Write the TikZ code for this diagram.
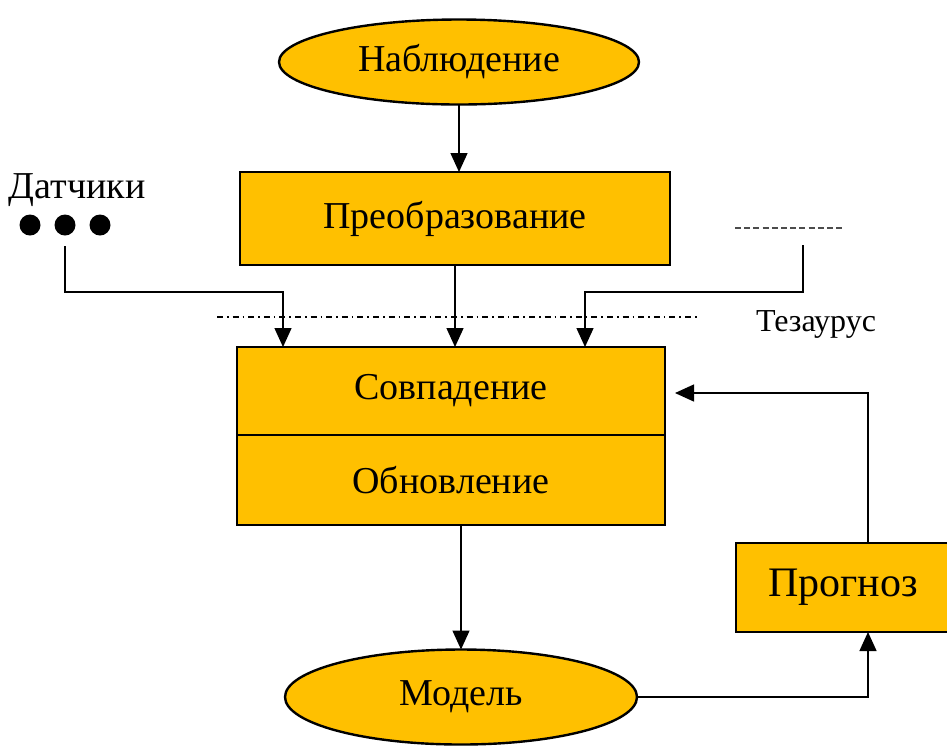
\documentclass[tikz,border=0pt]{standalone}
\usepackage{fontspec}
\setmainfont{Liberation Serif}
\usetikzlibrary{shapes.geometric,arrows.meta}
\definecolor{blockfill}{HTML}{FFC000}

\begin{document}
\begin{tikzpicture}[x=0.5pt,y=-0.5pt,
   every node/.style={font=\rmfamily},
   box/.style={draw,line width=1.2pt,outer sep=0pt,fill=blockfill,minimum width=214pt,minimum height=45pt,font=\rmfamily\fontsize{19}{22}\selectfont},
   oval/.style={box,ellipse},
   dot/.style={circle,fill,inner sep=0pt,minimum size=10.5pt},
   arr/.style={-{Triangle[width=8.5pt,length=9.5pt]},line width=0.7pt}]
\useasboundingbox (0,0) rectangle (947,746);
\node[oval,minimum width=180pt,minimum height=42.5pt] (nabl) at (459,62) {Наблюдение};
\node[box,minimum width=215pt,minimum height=46.5pt] (preobr) at (455,218.5) {Преобразование};
\node[box,minimum height=44pt] (sovp) at (451,391) {Совпадение};
\node[box,anchor=north] (obnov) at (sovp.south) {Обновление};
\node[oval,minimum width=176pt,minimum height=47.5pt] (model) at (461,697) {Модель};
\node[box,minimum width=107pt,minimum height=44.5pt,font=\rmfamily\fontsize{21}{25}\selectfont] (progn) at (843,587.5) {Прогноз};
\node[font=\rmfamily\fontsize{19}{22}\selectfont] (datch) at (77,190) {Датчики};
\foreach \i/\x in {1/30,2/65,3/100}
	\node[dot] (d\i) at (\x,225) {};
\node[font=\rmfamily\fontsize{16}{19}\selectfont] (tez) at (816,324) {Тезаурус};
\coordinate (s1) at (65,246);
\coordinate (k1) at (283,292);
\coordinate (t1) at (803,245);
\coordinate (k3) at (585,292);
\coordinate (l1) at (217,317);
\coordinate (l2) at (697,317);
\coordinate (t2) at (735,228);
\coordinate (t3) at (845,228);
\coordinate (px) at (868,0);
\draw[line width=0.6pt,dash pattern=on 3pt off 2pt on 0.8pt off 2pt] (l1) -- (l2);
\draw[line width=0.6pt,black!70,dash pattern=on 3pt off 1.6pt] (t2) -- (t3);
\draw[arr] (nabl.south) -- (nabl.south |- preobr.north);
\draw[arr] (s1) |- (k1) -- (k1 |- sovp.north);
\draw[arr] (preobr.south) -- (preobr.south |- sovp.north);
\draw[arr] (t1) |- (k3) -- (k3 |- sovp.north);
\draw[arr] (model.north |- obnov.south) -- (model.north);
\draw[arr] (model.east) -| (px |- progn.south);
\draw[arr] (px |- progn.north) |- ([xshift=5pt,yshift=-1pt]sovp.east);
\end{tikzpicture}
\end{document}
